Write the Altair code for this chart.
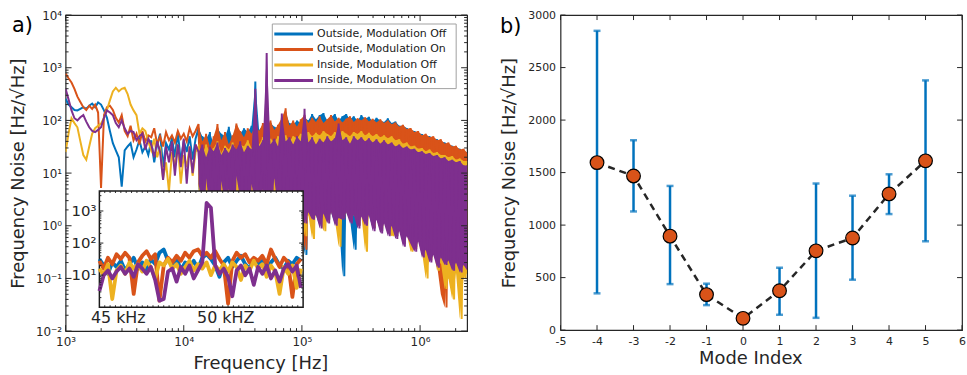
import altair as alt
import numpy as np
import pandas as pd

# ---------------- data ----------------
SERIES = ["Outside, Modulation Off", "Outside, Modulation On",
          "Inside, Modulation Off", "Inside, Modulation On"]
COLORS = ["#0072BD", "#D95319", "#EDB120", "#7E2F8E"]

# low-frequency part (log10 f grid 3.0 .. 4.1)
LOW_LOG_F = np.linspace(3.0, 4.1, 45)
BLUE_LOW = [257, 200, 178, 158, 155, 166, 178, 166, 190, 209,
            178, 219, 200, 155, 112, 63, 37, 27, 20, 5.5,
            27, 32, 37, 20, 28, 42, 25, 32, 22, 42,
            16, 35, 56, 13, 37, 28, 46, 20, 60, 16,
            42, 25, 50, 18, 45]
ORANGE_LOW = [776, 631, 525, 398, 282, 224, 178, 158, 190, 166,
              200, 141, 5.2, 126, 178, 190, 158, 112, 91, 126,
              63, 50, 79, 42, 56, 35, 63, 40, 52, 48,
              71, 35, 50, 32, 60, 42, 52, 38, 63, 45,
              56, 40, 71, 50, 63]
YELLOW_LOW = [25, 56, 110, 89, 74, 40, 22, 18, 32, 56,
              71, 79, 87, 112, 158, 240, 355, 417, 355, 398,
              417, 316, 200, 155, 126, 56, 71, 63, 40, 27,
              45, 20, 32, 7.9, 16, 4.5, 25, 13, 35, 6.3,
              22, 13, 32, 8.9, 25]
PURPLE_LOW = [398, 251, 155, 110, 100, 115, 126, 95, 74, 63,
              60, 66, 74, 112, 155, 141, 126, 89, 74, 100,
              71, 56, 63, 60, 42, 50, 56, 28, 45, 35,
              20, 40, 25, 7.4, 32, 16, 40, 8.9, 35, 13,
              45, 6.3, 32, 10, 35]

# dense high-frequency part: upper / lower excursions (log10 f grid 4.125 .. 6.40)
HIGH_LOG_F = np.linspace(4.125, 6.40, 72)
HALF_STEP = 0.016
BLUE_UP = [71, 50, 45, 60, 35, 71, 56, 50, 76, 45,
           79, 56, 71, 60, 79, 550, 66, 79, 63, 89,
           76, 71, 100, 141, 89, 83, 100, 89, 112, 100,
           132, 105, 126, 138, 100, 115, 132, 100, 120, 132,
           105, 120, 100, 126, 107, 117, 95, 112, 100, 93,
           110, 89, 95, 79, 79, 72, 66, 63, 58, 55,
           50, 50, 46, 44, 40, 38, 35, 33, 30, 29,
           26, 25]
BLUE_LO = [5.0, 3.2, 6.3, 2.5, 4.0, 2.0, 5.0, 3.2, 4.0, 2.5,
           6.3, 3.2, 4.0, 2.0, 5.0, 3.2, 2.5, 4.0, 2.0, 3.2,
           5.0, 2.5, 4.0, 1.6, 3.2, 2.0, 2.5, 1.6, 0.28, 1.8,
           1.4, 1.6, 1.0, 1.8, 1.3, 1.8, 1.1, 1.6, 0.11, 1.8,
           1.3, 0.35, 1.0, 1.6, 1.1, 1.6, 0.89, 1.4, 0.79, 1.3,
           0.71, 1.1, 0.63, 0.89, 0.50, 0.71, 0.50, 0.40, 0.56, 0.32,
           0.40, 0.25, 0.32, 0.20, 0.28, 0.22, 0.25, 0.17, 0.22, 0.16,
           0.20, 0.16]
ORANGE_UP = [85, 40, 56, 32, 50, 85, 42, 60, 35, 52,
             87, 63, 48, 71, 56, 79, 63, 89, 71, 100,
             66, 83, 112, 170, 79, 100, 76, 105, 126, 89,
             112, 93, 120, 89, 105, 126, 95, 112, 91, 107,
             120, 93, 110, 100, 115, 95, 107, 91, 105, 89,
             100, 85, 91, 76, 83, 69, 72, 60, 63, 52,
             56, 48, 50, 42, 44, 36, 38, 32, 33, 28,
             29, 24]
ORANGE_LO = [5.6, 3.5, 7.1, 2.8, 4.5, 2.2, 6.3, 3.2, 5.0, 2.5,
             7.9, 3.5, 4.5, 2.2, 5.6, 3.2, 2.5, 4.5, 2.0, 3.5,
             7.1, 2.5, 4.5, 1.8, 3.5, 2.0, 2.8, 1.8, 0.35, 2.0,
             1.6, 1.8, 1.1, 2.0, 1.3, 2.0, 1.2, 1.6, 1.4, 2.0,
             1.3, 1.8, 1.0, 1.7, 1.2, 1.8, 0.9, 1.4, 0.8, 1.3,
             0.7, 1.1, 0.63, 0.9, 0.45, 0.7, 0.5, 0.36, 0.56, 0.28,
             0.4, 0.22, 0.32, 0.18, 0.05, 0.028, 0.25, 0.16, 0.22, 0.15,
             0.2, 0.16]
YELLOW_UP = [32, 22, 35, 25, 30, 40, 24, 33, 28, 38,
             26, 35, 32, 42, 30, 40, 35, 48, 33, 45,
             38, 50, 42, 52, 40, 50, 46, 56, 48, 60,
             50, 58, 52, 63, 55, 50, 60, 52, 63, 56,
             50, 60, 55, 63, 52, 58, 50, 55, 48, 52,
             46, 50, 42, 44, 36, 38, 32, 33, 29, 30,
             26, 28, 24, 25, 22, 22, 20, 21, 18, 19,
             17, 17]
YELLOW_LO = [3.2, 4.0, 2.5, 5.0, 2.0, 4.0, 1.6, 5.0, 2.5, 4.0,
             2.0, 5.0, 2.5, 3.2, 2.0, 4.0, 3.2, 2.0, 4.0, 2.5,
             3.2, 4.0, 2.0, 3.2, 2.5, 4.0, 2.0, 3.2, 0.63, 1.6,
             0.56, 1.8, 1.4, 0.79, 1.6, 1.8, 1.3, 0.40, 1.6, 1.8,
             1.4, 1.6, 1.3, 1.6, 0.32, 1.8, 1.0, 1.4, 0.89, 1.3,
             0.79, 0.63, 0.71, 1.0, 0.50, 0.71, 0.32, 0.40, 0.56, 0.32,
             0.10, 0.25, 0.35, 0.14, 0.20, 0.063, 0.10, 0.040, 0.13, 0.017,
             0.10, 0.13]
PURPLE_UP = [25, 35, 20, 32, 26, 38, 22, 30, 24, 35,
             28, 40, 25, 33, 28, 400, 32, 42, 1900, 35,
             45, 32, 135, 40, 48, 35, 50, 40, 166, 38,
             48, 35, 45, 38, 50, 40, 46, 87, 42, 48,
             36, 50, 42, 48, 40, 46, 38, 44, 36, 42,
             35, 38, 32, 35, 30, 32, 28, 29, 25, 26,
             23, 24, 21, 22, 19, 20, 17, 18, 16, 17,
             14, 14]
PURPLE_LO = [6.3, 2.5, 7.9, 2.0, 4.0, 1.6, 7.1, 2.5, 5.0, 2.0,
             8.9, 3.2, 4.0, 1.6, 6.3, 2.5, 2.0, 5.0, 1.6, 3.2,
             7.9, 2.0, 4.0, 1.3, 3.2, 1.6, 2.5, 1.4, 1.1, 1.8,
             1.3, 1.6, 0.89, 1.7, 1.1, 1.8, 1.0, 1.4, 1.3, 1.8,
             1.1, 1.6, 0.89, 1.5, 1.0, 1.6, 0.79, 1.3, 0.71, 1.1,
             0.63, 1.0, 0.56, 0.79, 0.40, 0.63, 0.45, 0.32, 0.50, 0.25,
             0.35, 0.20, 0.28, 0.16, 0.25, 0.18, 0.22, 0.14, 0.20, 0.13,
             0.18, 0.14]

# inset (45 - 54.5 kHz)
INSET_KHZ = np.linspace(45.0, 54.4, 48)
BLUE_IN = [32, 20, 11, 25, 18, 28, 14, 22, 35, 16,
           25, 13, 32, 22, 50, 63, 28, 20, 35, 14,
           25, 18, 28, 16, 35, 45, 32, 20, 8.9, 25,
           35, 18, 28, 40, 22, 16, 32, 22, 28, 14,
           25, 35, 20, 16, 28, 22, 35, 28]
ORANGE_IN = [28, 16, 35, 22, 45, 32, 50, 35, 2.6, 25,
             40, 56, 32, 45, 1.6, 20, 35, 25, 40, 28,
             50, 35, 56, 63, 40, 50, 35, 56, 32, 20,
             1.3, 28, 50, 35, 45, 25, 35, 28, 40, 22,
             63, 32, 18, 35, 25, 2.1, 22, 32]
YELLOW_IN = [16, 10, 22, 1.8, 14, 20, 11, 25, 16, 22,
             13, 28, 18, 7.9, 25, 20, 32, 16, 22, 11,
             18, 28, 14, 22, 16, 25, 10, 20, 14, 22,
             13, 25, 18, 7.1, 20, 14, 28, 16, 22, 8.9,
             20, 13, 2.6, 18, 11, 20, 4.0, 16]
PURPLE_IN = [3.2, 10, 14, 7.9, 13, 18, 11, 16, 8.9, 22,
             16, 11, 18, 7.1, 1.6, 1.8, 13, 16, 6.3, 18,
             11, 20, 7.9, 14, 25, 1780, 1260, 20, 11, 16,
             8.9, 2.2, 14, 20, 10, 16, 5.0, 18, 11, 20,
             7.9, 14, 6.3, 16, 22, 13, 20, 4.0]

# panel b
MODE = [-4, -3, -2, -1, 0, 1, 2, 3, 4, 5]
NOISE = [1595, 1468, 895, 338, 112, 375, 755, 877, 1297, 1612]
ERR_LO = [350, 1130, 438, 238, 60, 146, 117, 480, 1105, 846]
ERR_HI = [2850, 1808, 1373, 442, 160, 594, 1396, 1280, 1484, 2378]

# ---------------- tables ----------------
UPS = [BLUE_UP, ORANGE_UP, YELLOW_UP, PURPLE_UP]
LOS = [BLUE_LO, ORANGE_LO, YELLOW_LO, PURPLE_LO]
rows, arows = [], []
for name, low, up, lo in zip(SERIES, [BLUE_LOW, ORANGE_LOW, YELLOW_LOW, PURPLE_LOW], UPS, LOS):
    k = 0
    for lf, v in zip(LOW_LOG_F, low):
        rows.append(dict(series=name, freq=10 ** lf, val=v, idx=k)); k += 1
    for lf, u, d in zip(HIGH_LOG_F, up, lo):
        rows.append(dict(series=name, freq=10 ** lf, val=u, idx=k)); k += 1
        rows.append(dict(series=name, freq=10 ** (lf + HALF_STEP), val=d, idx=k)); k += 1
        arows.append(dict(series=name, freq=10 ** lf, up=u, lo=d))
main_df = pd.DataFrame(rows)
band_df = pd.DataFrame(arows)

irows = []
for name, vals in zip(SERIES, [BLUE_IN, ORANGE_IN, YELLOW_IN, PURPLE_IN]):
    for i, (f, v) in enumerate(zip(INSET_KHZ, vals)):
        irows.append(dict(series=name, khz=f, val=v, idx=i))
inset_df = pd.DataFrame(irows)

modes_df = pd.DataFrame(dict(mode=MODE, noise=NOISE, lo=ERR_LO, hi=ERR_HI))

# ---------------- styling ----------------
AX = "#262626"
FONT = "DejaVu Sans"
W, H = 404, 318
WR, HR = 404, 317

x_main = alt.Scale(type="log", domain=[1000, 2.5e6])
y_main = alt.Scale(type="log", domain=[0.01, 10000])

x_lab = ("datum.value >= 500000 ? '10⁶' : datum.value >= 50000 ? '10⁵' : "
         "datum.value >= 5000 ? '10⁴' : '10³'")
y_lab = ("datum.value >= 5000 ? '10⁴' : datum.value >= 500 ? '10³' : "
         "datum.value >= 50 ? '10²' : datum.value >= 5 ? '10¹' : "
         "datum.value >= 0.5 ? '10⁰' : datum.value >= 0.05 ? '10⁻¹' : '10⁻²'")

x_axis_main = alt.Axis(values=[1e3, 1e4, 1e5, 1e6], labelExpr=x_lab, ticks=False, domain=False,
                       grid=False, labelFontSize=12, labelColor=AX, labelPadding=5, labelFlush=False,
                       title="Frequency [Hz]", titleFontSize=18, titleFontWeight="normal",
                       titleColor=AX, titlePadding=8, titleX=196)
y_axis_main = alt.Axis(values=[1e-2, 1e-1, 1, 10, 100, 1e3, 1e4], labelExpr=y_lab, ticks=False,
                       domain=False, grid=False, labelFontSize=12, labelColor=AX, labelPadding=4,
                       labelFlush=False, title="Frequency Noise [Hz/√Hz]", titleFontSize=18,
                       titleFontWeight="normal", titleColor=AX, titlePadding=8)

color_enc = alt.Color("series:N", scale=alt.Scale(domain=SERIES, range=COLORS), legend=None)

x_enc = alt.X("freq:Q", scale=x_main, axis=x_axis_main)
y_enc = alt.Y("val:Q", scale=y_main, axis=y_axis_main)

main_layers = []
for name in SERIES:
    main_layers.append(
        alt.Chart(band_df).transform_filter(alt.datum.series == name)
        .mark_area(clip=True, opacity=1, interpolate="linear")
        .encode(x=x_enc, y=alt.Y("up:Q", scale=y_main, axis=y_axis_main), y2="lo:Q", color=color_enc)
    )
    main_layers.append(
        alt.Chart(main_df).transform_filter(alt.datum.series == name)
        .mark_line(strokeWidth=2, clip=True)
        .encode(x=x_enc, y=y_enc, color=color_enc, order="idx:Q")
    )

# inward ticks for the main panel
X_MAJ = [1e3, 1e4, 1e5, 1e6]
X_MIN = [m * 10 ** e for e in range(3, 7) for m in range(2, 10) if m * 10 ** e <= 2.5e6]
Y_MAJ = [10.0 ** e for e in range(-2, 5)]
Y_MIN = [m * 10.0 ** e for e in range(-2, 4) for m in range(2, 10)]


def xticks(vals, scale, axis, field, length, h):
    d = pd.DataFrame({field: vals})
    b = alt.Chart(d).mark_rule(color=AX, strokeWidth=1).encode(
        x=alt.X(f"{field}:Q", scale=scale, axis=axis), y=alt.value(h), y2=alt.value(h - length))
    t = alt.Chart(d).mark_rule(color=AX, strokeWidth=1).encode(
        x=alt.X(f"{field}:Q", scale=scale, axis=axis), y=alt.value(0), y2=alt.value(length))
    return [b, t]


def yticks(vals, scale, axis, field, length, w):
    d = pd.DataFrame({field: vals})
    l = alt.Chart(d).mark_rule(color=AX, strokeWidth=1).encode(
        y=alt.Y(f"{field}:Q", scale=scale, axis=axis), x=alt.value(0), x2=alt.value(length))
    r = alt.Chart(d).mark_rule(color=AX, strokeWidth=1).encode(
        y=alt.Y(f"{field}:Q", scale=scale, axis=axis), x=alt.value(w), x2=alt.value(w - length))
    return [l, r]


tick_layers = (xticks(X_MAJ, x_main, x_axis_main, "freq", 6, H) +
               xticks(X_MIN, x_main, x_axis_main, "freq", 3, H) +
               yticks(Y_MAJ, y_main, y_axis_main, "val", 6, W) +
               yticks(Y_MIN, y_main, y_axis_main, "val", 3, W))

main_layer = alt.layer(*main_layers, *tick_layers)

# ---------------- inset ----------------
IN_X0, IN_X1, IN_Y0, IN_Y1 = 34, 239, 294, 177
x_in = alt.Scale(domain=[45.0, 54.5], range=[IN_X0, IN_X1])
y_in = alt.Scale(type="log", domain=[1, 4200], range=[IN_Y0, IN_Y1])

box = alt.Chart(pd.DataFrame({"a": [45.0], "b": [54.5], "c": [1.0], "d": [4200.0]})).mark_rect(
    fill="white", stroke="#1a1a1a", strokeWidth=1.5).encode(
    x=alt.X("a:Q", scale=x_in, axis=None), x2="b:Q",
    y=alt.Y("c:Q", scale=y_in, axis=None), y2="d:Q")

inset_lines = []
for name in SERIES:
    inset_lines.append(
        alt.Chart(inset_df).transform_filter(alt.datum.series == name)
        .mark_line(strokeWidth=3.8, strokeJoin="round")
        .encode(x=alt.X("khz:Q", scale=x_in, axis=None), y=alt.Y("val:Q", scale=y_in, axis=None),
                color=color_enc, order="idx:Q")
    )

IN_Y_MAJ = [10, 100, 1000]
IN_Y_MIN = [m * 10 ** e for e in range(0, 4) for m in range(2, 10) if m * 10 ** e <= 4200]
IN_X_MIN = [45.0 + 0.25 * i for i in range(1, 38)]

in_ticks = []
for vals, ln in [(IN_Y_MAJ, 4), (IN_Y_MIN, 2)]:
    d = pd.DataFrame({"val": vals})
    in_ticks.append(alt.Chart(d).mark_rule(color=AX, strokeWidth=1).encode(
        y=alt.Y("val:Q", scale=y_in, axis=None), x=alt.value(IN_X0), x2=alt.value(IN_X0 + ln)))
    in_ticks.append(alt.Chart(d).mark_rule(color=AX, strokeWidth=1).encode(
        y=alt.Y("val:Q", scale=y_in, axis=None), x=alt.value(IN_X1), x2=alt.value(IN_X1 - ln)))
dx = pd.DataFrame({"khz": IN_X_MIN})
in_ticks.append(alt.Chart(dx).mark_rule(color=AX, strokeWidth=1).encode(
    x=alt.X("khz:Q", scale=x_in, axis=None), y=alt.value(IN_Y0), y2=alt.value(IN_Y0 - 2)))
in_ticks.append(alt.Chart(dx).mark_rule(color=AX, strokeWidth=1).encode(
    x=alt.X("khz:Q", scale=x_in, axis=None), y=alt.value(IN_Y1), y2=alt.value(IN_Y1 + 2)))

in_ylab = alt.Chart(pd.DataFrame({"khz": [45.0] * 3, "val": [10, 100, 1000],
                                  "t": ["10¹", "10²", "10³"]})).mark_text(
    align="right", baseline="middle", dx=-3, fontSize=15, color=AX, font=FONT).encode(
    x=alt.X("khz:Q", scale=x_in, axis=None), y=alt.Y("val:Q", scale=y_in, axis=None), text="t:N")
in_xlab = alt.Chart(pd.DataFrame({"khz": [45.88, 50.89], "val": [1.0, 1.0],
                                  "t": ["45 kHz", "50 kHZ"]})).mark_text(
    align="center", baseline="middle", dy=11, fontSize=16, color=AX, font=FONT).encode(
    x=alt.X("khz:Q", scale=x_in, axis=None), y=alt.Y("val:Q", scale=y_in, axis=None), text="t:N")

inset_layer = alt.layer(box, *inset_lines, *in_ticks, in_ylab, in_xlab)

# ---------------- legend (drawn inside plot a) ----------------
LEG_X0, LEG_X1, LEG_Y0, LEG_Y1 = 208, 393, 9, 74
leg_df = pd.DataFrame({"series": SERIES, "row": [0, 1, 2, 3]})
leg_box = alt.Chart(pd.DataFrame({"k": [0]})).mark_rect(
    fill="white", stroke="#a0a0a0", strokeWidth=1).encode(
    x=alt.value(LEG_X0), x2=alt.value(LEG_X1), y=alt.value(LEG_Y0), y2=alt.value(LEG_Y1))
leg_lines = alt.Chart(leg_df).transform_calculate(py="19 + datum.row * 15.6").mark_rule(
    strokeWidth=3).encode(x=alt.value(LEG_X0 + 2), x2=alt.value(LEG_X0 + 41),
                          y=alt.Y("py:Q", scale=None, axis=None), color=color_enc)
leg_text = alt.Chart(leg_df).transform_calculate(py="19 + datum.row * 15.6").mark_text(
    align="left", baseline="middle", fontSize=11, color="#1a1a1a", font=FONT).encode(
    x=alt.value(LEG_X0 + 45), y=alt.Y("py:Q", scale=None, axis=None), text="series:N")

a_text = alt.Chart(pd.DataFrame({"t": ["a)"]})).mark_text(
    align="left", baseline="middle", fontSize=21, color="black", font=FONT).encode(
    text="t:N", x=alt.value(-54), y=alt.value(11))

left = alt.layer(main_layer, inset_layer, leg_box, leg_lines, leg_text, a_text).resolve_scale(
    x="independent", y="independent").properties(width=W, height=H)

# ---------------- panel b ----------------
x_r = alt.Scale(domain=[-5, 6], nice=False, zero=False)
y_r = alt.Scale(domain=[0, 3000], nice=False)
x_axis_r = alt.Axis(values=list(range(-5, 7)), labelExpr="'' + datum.value", ticks=False,
                    domain=False, grid=False, labelFontSize=11, labelColor=AX, labelPadding=5,
                    labelFlush=False, title="Mode Index", titleFontSize=18,
                    titleFontWeight="normal", titleColor=AX, titlePadding=4, titleX=191)
y_axis_r = alt.Axis(values=list(range(0, 3001, 500)), labelExpr="'' + datum.value", ticks=False,
                    domain=False, grid=False, labelFontSize=11, labelColor=AX, labelPadding=5,
                    labelFlush=False, title="Frequency Noise [Hz/√Hz]", titleFontSize=18,
                    titleFontWeight="normal", titleColor=AX, titlePadding=9)

xr = alt.X("mode:Q", scale=x_r, axis=x_axis_r)
base_r = alt.Chart(modes_df)
err = base_r.mark_rule(color="#0072BD", strokeWidth=2.5).encode(
    x=xr, y=alt.Y("lo:Q", scale=y_r, axis=y_axis_r), y2="hi:Q")
cap_lo = base_r.mark_tick(color="#0072BD", orient="horizontal", size=7, thickness=2.5).encode(
    x=xr, y=alt.Y("lo:Q", scale=y_r, axis=y_axis_r))
cap_hi = base_r.mark_tick(color="#0072BD", orient="horizontal", size=7, thickness=2.5).encode(
    x=xr, y=alt.Y("hi:Q", scale=y_r, axis=y_axis_r))
dash = base_r.mark_line(color=AX, strokeDash=[7, 5], strokeWidth=2.5).encode(
    x=xr, y=alt.Y("noise:Q", scale=y_r, axis=y_axis_r))
pts = base_r.mark_circle(size=190, color="#D95319", stroke="black", strokeWidth=1.2,
                         opacity=1).encode(x=xr, y=alt.Y("noise:Q", scale=y_r, axis=y_axis_r))

RX = pd.DataFrame({"mode": list(range(-5, 7))})
RY = pd.DataFrame({"noise": list(range(0, 3001, 500))})
r_ticks = [
    alt.Chart(RX).mark_rule(color=AX, strokeWidth=1).encode(x=xr, y=alt.value(HR), y2=alt.value(HR - 5)),
    alt.Chart(RX).mark_rule(color=AX, strokeWidth=1).encode(x=xr, y=alt.value(0), y2=alt.value(5)),
    alt.Chart(RY).mark_rule(color=AX, strokeWidth=1).encode(
        y=alt.Y("noise:Q", scale=y_r, axis=y_axis_r), x=alt.value(0), x2=alt.value(5)),
    alt.Chart(RY).mark_rule(color=AX, strokeWidth=1).encode(
        y=alt.Y("noise:Q", scale=y_r, axis=y_axis_r), x=alt.value(WR), x2=alt.value(WR - 5)),
]
b_text = alt.Chart(pd.DataFrame({"t": ["b)"]})).mark_text(
    align="left", baseline="middle", fontSize=21, color="black", font=FONT).encode(
    text="t:N", x=alt.value(-61), y=alt.value(12))

right = alt.layer(err, cap_lo, cap_hi, dash, pts, *r_ticks, b_text).properties(width=WR, height=HR)

chart = alt.hconcat(left, right, spacing=30).properties(
    padding={"left": 8, "top": 7, "right": 0, "bottom": 0}
).configure(font=FONT).configure_view(stroke=AX, strokeWidth=1.2)

chart.save("out.html", embed_options={"renderer": "svg", "actions": False})
